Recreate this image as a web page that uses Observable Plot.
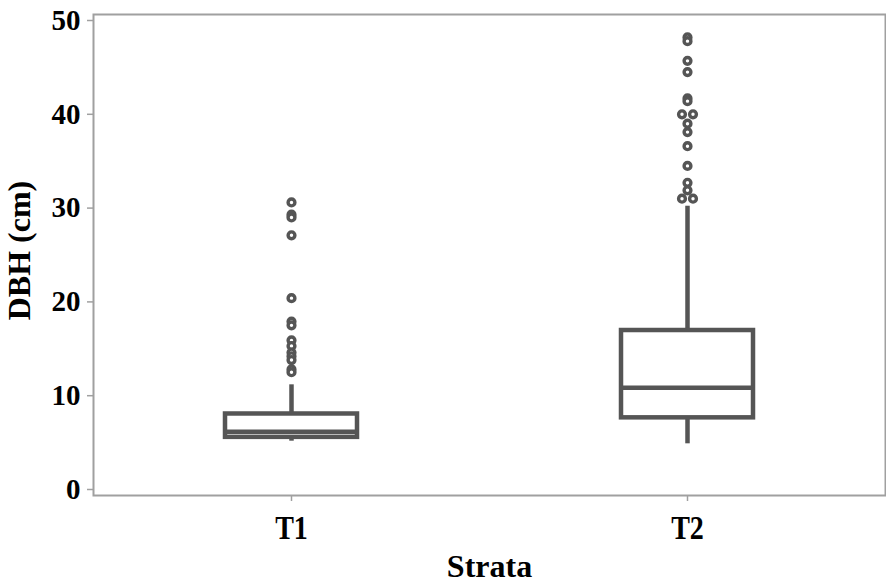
<!DOCTYPE html>
<html>
<head>
<meta charset="utf-8">
<script src="https://cdn.jsdelivr.net/npm/d3@7"></script>
<script src="https://cdn.jsdelivr.net/npm/@observablehq/plot@0.6"></script>
<style>
  html, body { margin: 0; padding: 0; background: #fff; }
</style>
</head>
<body>
<div id="chart"></div>
<script>
// Categories
const strata = ["T1", "T2"];
// Box statistics (cm)
const whiskerLow  = [5.15, 4.87];
const q1          = [5.56, 7.64];
const median      = [6.16, 10.84];
const q3          = [8.05, 16.95];
const whiskerHigh = [11.16, 30.2];
// Outliers (cm)
const t1Outliers = [30.6, 29.3, 29.0, 27.1, 20.4, 17.9, 17.5, 15.9, 15.3, 14.6, 14.2, 13.8, 12.8, 12.5];
const t2Outliers = [48.2, 47.8, 45.7, 44.5, 41.7, 41.4, 39.0, 38.1, 36.6, 34.5, 32.7, 31.9];
const t2TiedOutliers = [40.0, 31.0]; // tied values drawn side by side
// Axis ticks
const yTicks = [0, 10, 20, 30, 40, 50];
const yLabel = "DBH (cm)";
const xLabel = "Strata";

const boxes = strata.map((s, i) => ({
  strata: s, lo: whiskerLow[i], q1: q1[i], med: median[i], q3: q3[i], hi: whiskerHigh[i]
}));
const outliers = [
  ...t1Outliers.map(v => ({strata: "T1", v})),
  ...t2Outliers.map(v => ({strata: "T2", v}))
];
const tied = t2TiedOutliers.map(v => ({strata: "T2", v}));

const ink = "#555555";
const axisGray = "#a0a0a0";
const lw = 4.5;
const inset = 132;
const dotStyle = {r: 3.4, fill: "#fff", stroke: ink, strokeWidth: 3.4};

const chart = Plot.plot({
  width: 886,
  height: 587,
  marginLeft: 93,
  marginRight: 1,
  marginTop: 14,
  marginBottom: 92,
  style: {
    fontFamily: "'Liberation Serif', 'Times New Roman', serif",
    fontWeight: "bold",
    background: "#fff",
    color: "#000"
  },
  x: {type: "band", domain: strata, padding: 0},
  y: {domain: [-0.64, 50.64]},
  marks: [
    Plot.frame({stroke: axisGray, strokeWidth: 2}),
    Plot.axisY(yTicks, {
      tickSize: 6, tickPadding: 7, stroke: axisGray, strokeWidth: 1.5,
      fill: "#000", fontSize: 29, label: null
    }),
    Plot.axisX({
      tickSize: 6, tickPadding: 13, stroke: axisGray, strokeWidth: 1.5,
      fill: "#000", fontSize: 28, label: null
    }),
    Plot.text([yLabel], {
      text: d => d, frameAnchor: "left", textAnchor: "middle", lineAnchor: "middle",
      dx: -74, dy: -4.5, rotate: -90, fontSize: 32, fill: "#000"
    }),
    Plot.text([xLabel], {
      text: d => d, frameAnchor: "bottom", textAnchor: "middle", lineAnchor: "middle",
      dy: 71, fontSize: 32, fill: "#000"
    }),
    Plot.ruleX(boxes, {x: "strata", y1: "lo", y2: "q1", stroke: ink, strokeWidth: lw}),
    Plot.ruleX(boxes, {x: "strata", y1: "q3", y2: "hi", stroke: ink, strokeWidth: lw}),
    Plot.barY(boxes, {
      x: "strata", y1: "q1", y2: "q3", fill: "#fff", stroke: ink, strokeWidth: lw,
      insetLeft: inset, insetRight: inset
    }),
    Plot.tickY(boxes, {
      x: "strata", y: "med", stroke: ink, strokeWidth: lw,
      insetLeft: inset, insetRight: inset
    }),
    Plot.dot(outliers, {x: "strata", y: "v", ...dotStyle}),
    Plot.dot(tied, {x: "strata", y: "v", ...dotStyle, dx: -5.5}),
    Plot.dot(tied, {x: "strata", y: "v", ...dotStyle, dx: 5.5})
  ]
});
// the reference's x tick labels are drawn vertically stretched
chart.querySelectorAll('g[aria-label="x-axis tick label"] text').forEach(t => {
  const tr = t.getAttribute("transform") || "";
  t.setAttribute("transform", (tr + " scale(1,1.22)").trim());
});
document.getElementById("chart").appendChild(chart);
</script>
</body>
</html>
